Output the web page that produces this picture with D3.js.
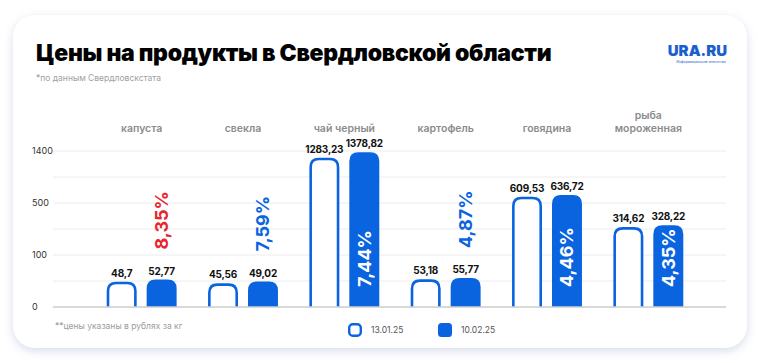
<!DOCTYPE html>
<html>
<head>
<meta charset="utf-8">
<script src="https://cdn.jsdelivr.net/npm/d3@7"></script>
<style>
  body { margin: 0; background: #fff; }
  svg { display: block; }
</style>
</head>
<body>
<div id="chart"></div>
<script>
// Данные
const categories = ["капуста", "свекла", "чай черный", "картофель", "говядина", "рыба мороженная"];
const seriesNames = ["13.01.25", "10.02.25"];
const valuesJan = [48.7, 45.56, 1283.23, 53.18, 609.53, 314.62];
const valuesFeb = [52.77, 49.02, 1378.82, 55.77, 636.72, 328.22];
const labelsJan = ["48,7", "45,56", "1283,23", "53,18", "609,53", "314,62"];
const labelsFeb = ["52,77", "49,02", "1378,82", "55,77", "636,72", "328,22"];
const growth = [8.35, 7.59, 7.44, 4.87, 4.46, 4.35];
const yTicks = [0, 100, 500, 1400];
const yGrid = [0, 50, 100, 300, 500, 950, 1400];

const width = 760;
const height = 363;
const blue = "#0a64e0";
const red = "#e8262e";

const svg = d3.select("#chart")
    .append("svg")
    .attr("width", width)
    .attr("height", height);

// Тень карточки
const defs = svg.append("defs");
const shadow = defs.append("filter").attr("id", "shadow")
    .attr("x", "-10%").attr("y", "-10%").attr("width", "120%").attr("height", "125%");
shadow.append("feDropShadow")
    .attr("dx", 0).attr("dy", 3).attr("stdDeviation", 5)
    .attr("flood-color", "#b9c0dc").attr("flood-opacity", 0.55);

svg.append("rect")
    .attr("x", 13).attr("y", 15)
    .attr("width", 734).attr("height", 333)
    .attr("rx", 22)
    .attr("fill", "#fff")
    .attr("filter", "url(#shadow)");

// Заголовок
svg.append("text")
    .attr("x", 36).attr("y", 61)
    .attr("font-family", "Inter, 'Noto Sans', sans-serif")
    .attr("font-weight", 900)
    .attr("font-size", 23)
    .attr("letter-spacing", -0.3)
    .attr("fill", "#000")
    .text("Цены на продукты в Свердловской области");

svg.append("text")
    .attr("x", 36).attr("y", 81)
    .attr("font-family", "Inter, sans-serif")
    .attr("font-size", 8.5)
    .attr("fill", "#a0a0a0")
    .text("*по данным Свердловскстата");

// Логотип
svg.append("text")
    .attr("x", 727).attr("y", 56)
    .attr("text-anchor", "end")
    .attr("font-family", "Inter, sans-serif")
    .attr("font-weight", 900)
    .attr("font-size", 15)
    .attr("fill", "#1c5fcc")
    .text("URA.RU");
svg.append("text")
    .attr("x", 726).attr("y", 63)
    .attr("text-anchor", "end")
    .attr("font-family", "Inter, sans-serif")
    .attr("font-size", 3.6)
    .attr("fill", "#1c5fcc")
    .text("Информационное агентство");

// Шкалы
const y = d3.scaleLinear()
    .domain(yTicks)
    .range([307, 255, 203, 151]);

const x0 = d3.scaleBand()
    .domain(categories)
    .range([91, 699])
    .paddingInner(0.31)
    .paddingOuter(0.155);

const x1 = d3.scaleBand()
    .domain(seriesNames)
    .range([0, x0.bandwidth()])
    .paddingInner(0.25);

// Сетка
svg.append("g")
    .selectAll("line")
    .data(yGrid)
    .enter()
    .append("line")
    .attr("x1", 53).attr("x2", 726)
    .attr("y1", d => y(d)).attr("y2", d => y(d))
    .attr("stroke", "#ececec")
    .attr("stroke-width", 1);

svg.append("g")
    .selectAll("text")
    .data(yTicks)
    .enter()
    .append("text")
    .attr("x", 32)
    .attr("y", d => y(d) + 3)
    .attr("font-family", "Inter, sans-serif")
    .attr("font-size", 9)
    .attr("fill", "#333")
    .text(d => d);

// Категории
categories.forEach(function(d) {
    const words = d.length > 12 ? d.split(" ") : [d];
    const cx = x0(d) + x0.bandwidth() / 2;
    words.forEach(function(w, i) {
        svg.append("text")
            .attr("x", cx)
            .attr("y", 132 - (words.length - 1 - i) * 13)
            .attr("text-anchor", "middle")
            .attr("font-family", "Inter, sans-serif")
            .attr("font-weight", 600)
            .attr("font-size", 10.5)
            .attr("fill", "#8c8c8c")
            .text(w);
    });
});

// Путь столбика со скруглёнными верхними углами
function barPath(x, top, w, bottom, r, closed) {
    r = Math.min(r, w / 2, bottom - top);
    return `M${x},${bottom} V${top + r} Q${x},${top} ${x + r},${top} H${x + w - r} Q${x + w},${top} ${x + w},${top + r} V${bottom}` + (closed ? " Z" : "");
}

const bars = categories.map(function(c, i) {
    return { cat: c, i: i, jan: valuesJan[i], feb: valuesFeb[i] };
});

const g = svg.append("g");
const sw = 2.6;

// Пустые столбики (13.01.25)
g.selectAll(".bar-jan")
    .data(bars)
    .enter()
    .append("path")
    .attr("class", "bar-jan")
    .attr("d", d => barPath(x0(d.cat) + x1(seriesNames[0]) + sw / 2, y(d.jan) + sw / 2,
        x1.bandwidth() - sw, y(0), 8, false))
    .attr("fill", "#fff")
    .attr("stroke", blue)
    .attr("stroke-width", sw);

// Закрашенные столбики (10.02.25)
g.selectAll(".bar-feb")
    .data(bars)
    .enter()
    .append("path")
    .attr("class", "bar-feb")
    .attr("d", d => barPath(x0(d.cat) + x1(seriesNames[1]), y(d.feb),
        x1.bandwidth(), y(0), 9, true))
    .attr("fill", blue);

// Базовая линия
svg.append("line")
    .attr("x1", 53).attr("x2", 726)
    .attr("y1", y(0)).attr("y2", y(0))
    .attr("stroke", "#cfcfcf")
    .attr("stroke-width", 1.6);

// Подписи значений
function valueLabels(values, labels, s) {
    g.selectAll(".val-" + s)
        .data(values)
        .enter()
        .append("text")
        .attr("x", (d, i) => x0(categories[i]) + x1(seriesNames[s]) + x1.bandwidth() / 2)
        .attr("y", d => y(d) - 5)
        .attr("text-anchor", "middle")
        .attr("font-family", "Inter, sans-serif")
        .attr("font-weight", 700)
        .attr("font-size", 10)
        .attr("letter-spacing", -0.2)
        .attr("fill", "#111")
        .text((d, i) => labels[i]);
}
valueLabels(valuesJan, labelsJan, 0);
valueLabels(valuesFeb, labelsFeb, 1);

// Проценты роста
const maxGrowth = d3.max(growth);
const isInside = i => y(0) - y(valuesFeb[i]) > 70;
g.selectAll(".pct")
    .data(growth)
    .enter()
    .append("text")
    .attr("transform", function(d, i) {
        const cx = x0(categories[i]) + x1(seriesNames[1]) + x1.bandwidth() / 2;
        const yy = isInside(i) ? y(0) - 20 : y(valuesFeb[i]) - 30;
        return `translate(${cx},${yy}) rotate(-90)`;
    })
    .attr("dominant-baseline", "central")
    .attr("font-family", "Inter, sans-serif")
    .attr("font-weight", 700)
    .attr("font-size", 18)
    .attr("fill", function(d, i) {
        if (isInside(i)) return "#fff";
        return d === maxGrowth ? red : blue;
    })
    .text(d => d.toFixed(2).replace(".", ",") + "%");

// Сноска
svg.append("text")
    .attr("x", 55).attr("y", 329)
    .attr("font-family", "Inter, sans-serif")
    .attr("font-size", 8.5)
    .attr("fill", "#9c9c9c")
    .text("**цены указаны в рублях за кг");

// Легенда
const legendX = [348, 438];
const legend = svg.append("g")
    .selectAll("g")
    .data(seriesNames)
    .enter()
    .append("g")
    .attr("transform", (d, i) => `translate(${legendX[i]},323)`);

legend.append("rect")
    .attr("x", (d, i) => i === 0 ? 1.2 : 0)
    .attr("y", (d, i) => i === 0 ? 1.2 : 0)
    .attr("width", (d, i) => i === 0 ? 11.6 : 14)
    .attr("height", (d, i) => i === 0 ? 11.6 : 14)
    .attr("rx", 3.5)
    .attr("fill", (d, i) => i === 0 ? "#fff" : blue)
    .attr("stroke", (d, i) => i === 0 ? blue : "none")
    .attr("stroke-width", 2.4);

legend.append("text")
    .attr("x", 23)
    .attr("y", 10)
    .attr("font-family", "Inter, sans-serif")
    .attr("font-size", 8.5)
    .attr("fill", "#555")
    .text(d => d);
</script>
</body>
</html>
